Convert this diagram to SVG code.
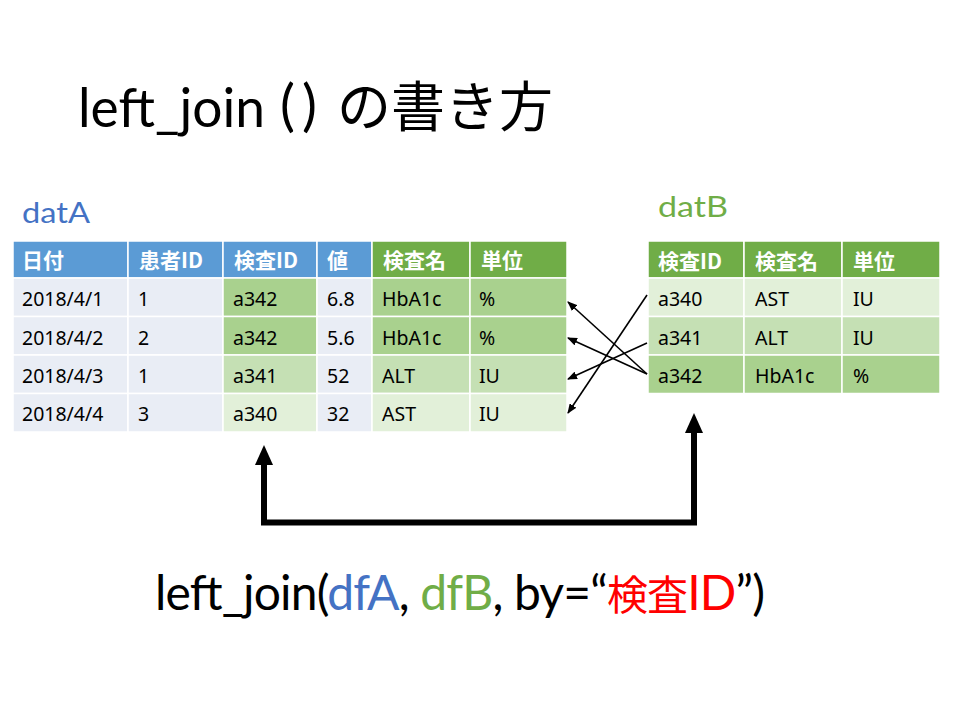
<svg xmlns="http://www.w3.org/2000/svg" width="960" height="720" viewBox="0 0 960 720">
<style>
.lat{font-family:Lato,"Noto Sans","Noto Sans CJK JP",sans-serif}
.jp{font-family:"Noto Sans CJK JP",sans-serif}
.hd{font-family:"Noto Sans CJK JP",sans-serif;font-weight:bold;font-size:21px;fill:#fff}
.bd{font-family:"Noto Sans","Noto Sans CJK JP",sans-serif;font-size:19.5px;fill:#000}
.c rect{stroke:#fff;stroke-width:1.5}
.hb{fill:#5B9BD5}.hg{fill:#70AD47}
.lb{fill:#E9EDF5}.g1{fill:#A9D18E}.g2{fill:#C5E0B4}.g3{fill:#E2F0D9}
.thin{fill:none;stroke:#000;stroke-width:1.6}
.thick{fill:none;stroke:#000;stroke-width:6}
</style>
<defs>
<marker id="sm" viewBox="0 0 10 8" refX="9" refY="4" markerWidth="10" markerHeight="8" markerUnits="userSpaceOnUse" orient="auto"><path d="M0,0 L10,4 L0,8 z" fill="#000"/></marker>
<marker id="bg" viewBox="0 0 20 18" refX="13" refY="9" markerWidth="20" markerHeight="18" markerUnits="userSpaceOnUse" orient="auto-start-reverse"><path d="M0,0 L20,9 L0,18 z" fill="#000"/></marker>
</defs>
<rect width="960" height="720" fill="#fff"/>

<g id="title">
<text x="78" y="127" class="lat" font-size="54" textLength="187" lengthAdjust="spacingAndGlyphs">left_join</text>
<text x="280" y="125" class="lat" font-size="56">(</text>
<text x="302" y="125" class="lat" font-size="56">)</text>
<text x="337" y="127" class="jp" font-size="54" textLength="216" lengthAdjust="spacingAndGlyphs">の書き方</text>
</g>

<g id="label-datA"><text x="22" y="223" class="lat" font-size="28" fill="#4472C4" textLength="68" lengthAdjust="spacingAndGlyphs">datA</text></g>
<g id="label-datB"><text x="658" y="217" class="lat" font-size="28" fill="#70AD47" textLength="70" lengthAdjust="spacingAndGlyphs">datB</text></g>

<g id="tableA" class="c">
<rect x="13" y="241" width="115" height="37" class="hb"/>
<rect x="128" y="241" width="95" height="37" class="hb"/>
<rect x="223" y="241" width="94" height="37" class="hb"/>
<rect x="317" y="241" width="55" height="37" class="hb"/>
<rect x="372" y="241" width="98" height="37" class="hg"/>
<rect x="470" y="241" width="97" height="37" class="hg"/>
<rect x="13" y="278" width="115" height="38.5" class="lb"/><rect x="128" y="278" width="95" height="38.5" class="lb"/><rect x="223" y="278" width="94" height="38.5" class="g1"/><rect x="317" y="278" width="55" height="38.5" class="lb"/><rect x="372" y="278" width="98" height="38.5" class="g1"/><rect x="470" y="278" width="97" height="38.5" class="g1"/>
<rect x="13" y="316.5" width="115" height="38.5" class="lb"/><rect x="128" y="316.5" width="95" height="38.5" class="lb"/><rect x="223" y="316.5" width="94" height="38.5" class="g1"/><rect x="317" y="316.5" width="55" height="38.5" class="lb"/><rect x="372" y="316.5" width="98" height="38.5" class="g1"/><rect x="470" y="316.5" width="97" height="38.5" class="g1"/>
<rect x="13" y="355" width="115" height="38.5" class="lb"/><rect x="128" y="355" width="95" height="38.5" class="lb"/><rect x="223" y="355" width="94" height="38.5" class="g2"/><rect x="317" y="355" width="55" height="38.5" class="lb"/><rect x="372" y="355" width="98" height="38.5" class="g2"/><rect x="470" y="355" width="97" height="38.5" class="g2"/>
<rect x="13" y="393.5" width="115" height="38.5" class="lb"/><rect x="128" y="393.5" width="95" height="38.5" class="lb"/><rect x="223" y="393.5" width="94" height="38.5" class="g3"/><rect x="317" y="393.5" width="55" height="38.5" class="lb"/><rect x="372" y="393.5" width="98" height="38.5" class="g3"/><rect x="470" y="393.5" width="97" height="38.5" class="g3"/>
<text x="22" y="268" class="hd">日付</text><text x="139" y="268" class="hd">患者ID</text><text x="234" y="268" class="hd">検査ID</text><text x="327" y="268" class="hd">値</text><text x="383" y="268" class="hd">検査名</text><text x="481" y="268" class="hd">単位</text>
<text x="22" y="306" class="bd">2018/4/1</text><text x="138" y="306" class="bd">1</text><text x="233" y="306" class="bd">a342</text><text x="327" y="306" class="bd">6.8</text><text x="382" y="306" class="bd">HbA1c</text><text x="479" y="306" class="bd">%</text>
<text x="22" y="345" class="bd">2018/4/2</text><text x="138" y="345" class="bd">2</text><text x="233" y="345" class="bd">a342</text><text x="327" y="345" class="bd">5.6</text><text x="382" y="345" class="bd">HbA1c</text><text x="479" y="345" class="bd">%</text>
<text x="22" y="383" class="bd">2018/4/3</text><text x="138" y="383" class="bd">1</text><text x="233" y="383" class="bd">a341</text><text x="327" y="383" class="bd">52</text><text x="382" y="383" class="bd">ALT</text><text x="479" y="383" class="bd">IU</text>
<text x="22" y="421" class="bd">2018/4/4</text><text x="138" y="421" class="bd">3</text><text x="233" y="421" class="bd">a340</text><text x="327" y="421" class="bd">32</text><text x="382" y="421" class="bd">AST</text><text x="479" y="421" class="bd">IU</text>
</g>

<g id="tableB" class="c">
<rect x="648" y="241" width="96" height="37" class="hg"/><rect x="744" y="241" width="98" height="37" class="hg"/><rect x="842" y="241" width="98" height="37" class="hg"/>
<rect x="648" y="278" width="96" height="38.5" class="g3"/><rect x="744" y="278" width="98" height="38.5" class="g3"/><rect x="842" y="278" width="98" height="38.5" class="g3"/>
<rect x="648" y="316.5" width="96" height="38.5" class="g2"/><rect x="744" y="316.5" width="98" height="38.5" class="g2"/><rect x="842" y="316.5" width="98" height="38.5" class="g2"/>
<rect x="648" y="355" width="96" height="38.5" class="g1"/><rect x="744" y="355" width="98" height="38.5" class="g1"/><rect x="842" y="355" width="98" height="38.5" class="g1"/>
<text x="658" y="269" class="hd">検査ID</text><text x="755" y="269" class="hd">検査名</text><text x="853" y="269" class="hd">単位</text>
<text x="658" y="306" class="bd">a340</text><text x="755" y="306" class="bd">AST</text><text x="853" y="306" class="bd">IU</text>
<text x="658" y="345" class="bd">a341</text><text x="755" y="345" class="bd">ALT</text><text x="853" y="345" class="bd">IU</text>
<text x="658" y="383" class="bd">a342</text><text x="755" y="383" class="bd">HbA1c</text><text x="853" y="383" class="bd">%</text>
</g>

<g id="connectors">
<line x1="647" y1="295" x2="568" y2="413" class="thin" marker-end="url(#sm)"/>
<line x1="647" y1="343" x2="568" y2="379" class="thin" marker-end="url(#sm)"/>
<line x1="647" y1="374" x2="568" y2="302" class="thin" marker-end="url(#sm)"/>
<line x1="647" y1="374" x2="568" y2="338" class="thin" marker-end="url(#sm)"/>
<path d="M264,452 V522.5 H694 V420" class="thick" marker-start="url(#bg)" marker-end="url(#bg)"/>
</g>

<g id="formula">
<text x="155" y="610" class="lat" font-size="48" fill="#000" textLength="610" lengthAdjust="spacing">left_join(<tspan fill="#4472C4">dfA</tspan>, <tspan fill="#70AD47">dfB</tspan>, by=“<tspan fill="#FF0000"><tspan class="jp" font-size="41">検査</tspan>ID</tspan>”)</text>
</g>
</svg>
